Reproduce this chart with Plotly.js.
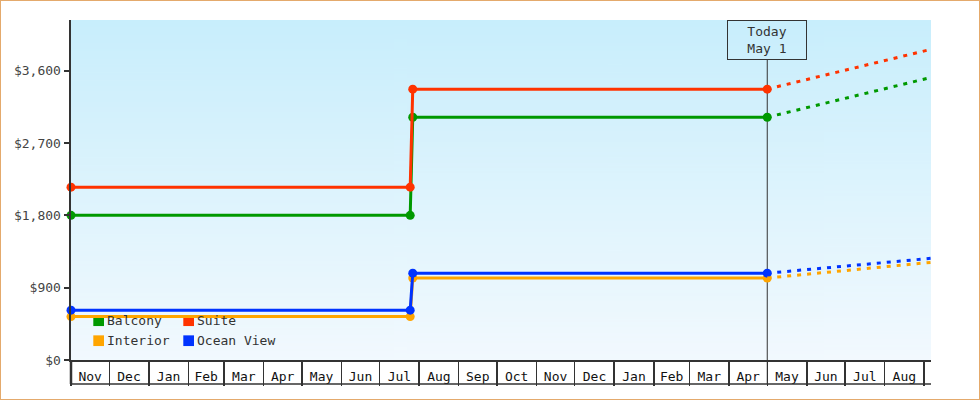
<!DOCTYPE html>
<html>
<head>
<meta charset="utf-8">
<script src="https://cdn.plot.ly/plotly-3.0.1.min.js"></script>
<style>
  html, body { margin: 0; padding: 0; background: #fff; }
  #frame { position: relative; width: 980px; height: 400px; box-sizing: border-box; border: 1px solid #e4aa6c; overflow: hidden; }
  #chart { position: absolute; left: -1px; top: -1px; width: 980px; height: 400px; }
</style>
</head>
<body>
<div id="frame"><div id="chart"></div></div>
<script>
// ---- data ----
const seriesNames = ["Balcony", "Suite", "Interior", "Ocean View"];
const seriesColors = ["#009900", "#ff3300", "#ffa500", "#0033ff"];
// historical dates (start, before step, after step, today)
const historyDates = ["2016-11-01", "2017-07-25", "2017-07-27", "2018-05-01"];
const balconyPrices = [1800, 1800, 3020, 3020];
const suitePrices = [2150, 2150, 3370, 3370];
const interiorPrices = [540, 540, 1020, 1020];
const oceanViewPrices = [620, 620, 1080, 1080];
// projection (today -> end of view)
const projectionDates = ["2018-05-01", "2018-09-06 10:00"];
const balconyProjection = [3020, 3515];
const suiteProjection = [3370, 3865];
const interiorProjection = [1020, 1215];
const oceanViewProjection = [1080, 1265];
const yTickValues = [0, 900, 1800, 2700, 3600];
const todayDate = "2018-05-01";
const todayLabel = "Today<br>May 1";

const historyBySeries = [balconyPrices, suitePrices, interiorPrices, oceanViewPrices];
const projectionBySeries = [balconyProjection, suiteProjection, interiorProjection, oceanViewProjection];

const FONT = "DejaVu Sans Mono, monospace";
const plotH = 340, plotW = 860;
const boxDepth = 24; // month cell height in px
const boxY = -boxDepth / plotH;

// draw order: Interior, Ocean View, Balcony, Suite
const drawOrder = [2, 3, 0, 1];
const traces = [];
drawOrder.forEach(i => {
  traces.push({
    type: "scatter", mode: "lines+markers", x: historyDates, y: historyBySeries[i],
    name: seriesNames[i], showlegend: false, hoverinfo: "skip", cliponaxis: false,
    line: { color: seriesColors[i], width: 3 },
    marker: { color: seriesColors[i], size: 9, symbol: "circle" }
  });
});
drawOrder.forEach(i => {
  traces.push({
    type: "scatter", mode: "lines", x: projectionDates, y: projectionBySeries[i],
    showlegend: false, hoverinfo: "skip", cliponaxis: true,
    line: { color: seriesColors[i], width: 3, dash: "4px,6px" }
  });
});

// background gradient image
const cv = document.createElement("canvas");
cv.width = 4; cv.height = 256;
const ctx = cv.getContext("2d");
const g = ctx.createLinearGradient(0, 0, 0, 256);
g.addColorStop(0, "#c8eefc");
g.addColorStop(1, "#f2f9fe");
ctx.fillStyle = g; ctx.fillRect(0, 0, 4, 256);

const shapes = [
  // bottom line of month cells
  { type: "line", xref: "paper", yref: "paper", x0: 0, x1: 1, y0: boxY, y1: boxY, line: { color: "#333", width: 1.5 } },
  // y-axis extension down through month cells
  { type: "line", xref: "paper", yref: "paper", x0: 0, x1: 0, y0: boxY, y1: 0, line: { color: "#333", width: 2.5 } },
  // today line
  { type: "line", xref: "x", yref: "paper", x0: todayDate, x1: todayDate, y0: boxY, y1: 1 - 40 / plotH, line: { color: "#333", width: 1 }, layer: "below" }
];
const annotations = [
  { x: todayDate, xref: "x", y: 1, yref: "paper", xanchor: "center", yanchor: "top",
    text: todayLabel, showarrow: false, font: { family: FONT, size: 13, color: "#333" },
    bordercolor: "#333", borderwidth: 1, borderpad: 0, width: 78, height: 38, bgcolor: "rgba(0,0,0,0)" }
];
// custom legend (2 columns x 2 rows)
const legendLeft = 22.3, colGap = 90, rowYs = [320.7, 340.7], sq = 10.7;
seriesNames.forEach((name, i) => {
  const col = i % 2, row = Math.floor(i / 2);
  const x0 = legendLeft + col * colGap;
  const yc = rowYs[row];
  shapes.push({ type: "rect", xref: "paper", yref: "paper",
    x0: x0 / plotW, x1: (x0 + sq) / plotW,
    y0: (360 - yc - sq / 2) / plotH, y1: (360 - yc + sq / 2) / plotH,
    fillcolor: seriesColors[i], line: { width: 0 }, layer: "below" });
  annotations.push({ x: (x0 + sq + 0.5) / plotW, xref: "paper", y: (360 - yc) / plotH, yref: "paper",
    xanchor: "left", yanchor: "middle", text: name, showarrow: false,
    font: { family: FONT, size: 13, color: "#333" } });
});

const layout = {
  width: 980, height: 400,
  margin: { l: 71, r: 49, t: 20, b: 40, pad: 0 },
  paper_bgcolor: "rgba(0,0,0,0)", plot_bgcolor: "rgba(0,0,0,0)",
  showlegend: false,
  xaxis: {
    type: "date", range: ["2016-11-01", "2018-09-06 10:00"],
    tickmode: "linear", tick0: "2016-11-01", dtick: "M1", tickformat: "%b",
    ticklabelmode: "period", ticks: "outside", ticklen: boxDepth, tickwidth: 1.5, tickcolor: "#333",
    ticklabelstandoff: -21,
    showline: true, linecolor: "#333", linewidth: 2, showgrid: false, zeroline: false,
    tickfont: { family: FONT, size: 13, color: "#111" }, fixedrange: true
  },
  yaxis: {
    range: [0, 4230], tickmode: "array", tickvals: yTickValues, tickformat: "$,.0f",
    ticks: "outside", ticklen: 5, tickwidth: 2, tickcolor: "#333",
    showline: true, linecolor: "#333", linewidth: 2.5, showgrid: false, zeroline: false,
    tickfont: { family: FONT, size: 13, color: "#444" }, fixedrange: true
  },
  images: [{ source: cv.toDataURL(), xref: "paper", yref: "paper", x: 0, y: 1, sizex: 1, sizey: 1,
    sizing: "stretch", xanchor: "left", yanchor: "top", layer: "below" }],
  shapes: shapes,
  annotations: annotations
};

Plotly.newPlot("chart", traces, layout, { displayModeBar: false, staticPlot: true });
</script>
</body>
</html>
